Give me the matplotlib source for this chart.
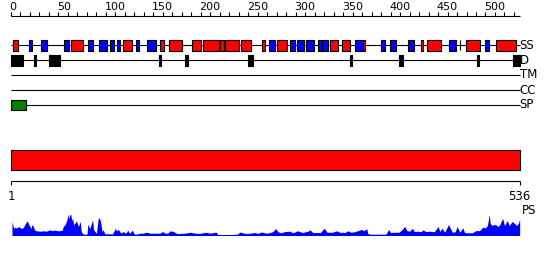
import matplotlib
matplotlib.use("Agg")
import matplotlib.pyplot as plt

SEQ_LEN = 536

# secondary structure elements (start, end residue)
HELIX = [(2, 7), (63, 76), (118, 127), (157, 161), (167, 180), (191, 200),
         (202, 219), (220, 224), (226, 240), (242, 253), (264, 268), (280, 291),
         (336, 345), (349, 357), (371, 373), (432, 434), (438, 453), (479, 494),
         (511, 532)]
STRAND = [(19, 22), (32, 38), (56, 61), (81, 86), (93, 101), (104, 109),
          (112, 115), (132, 135), (143, 147), (148, 153), (272, 278), (294, 299),
          (301, 309), (311, 319), (323, 328), (328, 334), (363, 371), (390, 394),
          (399, 406), (418, 425), (462, 469), (500, 504)]
SS_MARK = [473]
DISORDER = [(0, 13), (24, 26), (40, 52), (156, 158), (183, 187), (250, 255),
            (357, 359), (409, 413), (491, 493), (529, 536)]
TM = []
CC = []
SIGNAL = [(0, 16)]
DOMAIN = [(0, 536)]

RULER_LABELS = [0, 50, 100, 150, 200, 250, 300, 350, 400, 450, 500]

# PS profile (residue, score)
PS_POS = [1, 2, 3, 4, 6, 8, 11, 13, 15, 17, 19, 20, 21, 22, 23, 25, 27, 31, 34,
          37, 41, 43, 46, 50, 54, 55, 57, 59, 60, 61, 62, 63, 64, 65, 66, 67, 69,
          71, 73, 74, 76, 80, 81, 83, 86, 87, 90, 92, 94, 96, 97, 99, 104, 107,
          110, 111, 113, 116, 118, 121, 123, 125, 128, 130, 132, 136, 139, 143,
          146, 152, 157, 160, 162, 165, 168, 171, 175, 178, 183, 189, 194, 199,
          205, 210, 216, 218, 225, 233, 239, 241, 247, 252, 257, 260, 264, 269,
          273, 276, 279, 281, 284, 289, 294, 297, 302, 307, 313, 315, 318, 326,
          330, 333, 339, 343, 347, 349, 352, 355, 358, 362, 366, 369, 372, 375,
          376, 378, 389, 395, 398, 400, 405, 409, 412, 415, 417, 420, 423, 425,
          429, 432, 434, 437, 441, 446, 450, 452, 454, 457, 461, 465, 468, 470,
          473, 476, 478, 481, 486, 490, 493, 495, 497, 500, 502, 504, 505, 507,
          509, 511, 513, 515, 518, 520, 523, 525, 528, 531, 533, 535, 536]
PS_VAL = [14, 10, 7, 8.5, 7.5, 9, 7, 8, 11.7, 14.7, 10.7, 9, 7, 10.7, 10, 5.3,
          4.7, 4.3, 4.7, 4.3, 5.7, 5, 5.3, 4.7, 5.3, 9, 11, 15.7, 21, 17, 20.7,
          21, 15, 17, 10.7, 12, 14.7, 9, 14, 4, 1.3, 1.3, 11.3, 7, 15.7, 5.7,
          2.3, 18, 15.7, 4, 5.7, 1.7, 1.7, 1.7, 7.3, 4.7, 6, 2.3, 4, 2.3, 5.3,
          2.3, 5.3, 1.3, 1.3, 2.3, 2.3, 3.3, 2.3, 2.3, 2.3, 4, 2.3, 2.3, 4.7, 4,
          2, 2, 2.3, 3.3, 2.3, 2, 3.3, 2.3, 3.5, 1, 1, 1, 1.5, 3.5, 2, 2.3, 3,
          2, 3.5, 2.3, 3, 4, 7, 4, 2.7, 4, 4.3, 2.7, 4.7, 3, 4.3, 5.7, 3, 3,
          7.3, 3.3, 3.3, 4.7, 3, 3.3, 3, 4.7, 3.3, 3.7, 5, 6, 5, 6.7, 2, 1.3,
          1.3, 1.3, 6, 3, 3.3, 3.3, 6, 9, 5, 4.3, 7.3, 4, 4.3, 3.7, 5.7, 4, 4.3,
          3.7, 9, 4, 7.3, 3.3, 11, 3.3, 3.7, 9, 3.3, 7.7, 3, 2.7, 2.7, 5, 4.7,
          6, 8.3, 7.7, 10, 21, 12, 10, 11, 10.7, 9, 10.7, 17.3, 10, 15, 10, 14,
          11.7, 10, 13, 16.7]

TRACKS = ["SS", "D", "TM", "CC", "SP"]
TRACK_Y = [45.3, 60.3, 75, 90, 105]

px = 1.0 / 0.949  # residues per pixel
lw = 0.8

fig = plt.figure(figsize=(5.5, 2.6), dpi=100)
ax = fig.add_axes([0, 0, 1, 1])
ax.set_xlim(-11 * px, 539 * px)
ax.set_ylim(260, 0)
ax.axis("off")

# ruler
ax.hlines(15.5, 0, SEQ_LEN, color="black", lw=lw)
ax.vlines(range(0, SEQ_LEN, 10), 12, 15.5, color="black", lw=lw)
for r in RULER_LABELS:
    ax.text(r - 1.5, 7, str(r), ha="left", va="center", fontsize=8)

def boxes(segs, y, color, h=10.5):
    ax.broken_barh([(s, e - s) for s, e in segs], (y - h / 2, h),
                   facecolors=color, edgecolors="black", lw=lw, zorder=3)

for name, y in zip(TRACKS, TRACK_Y):
    ax.hlines(y, 0, SEQ_LEN, color="black", lw=lw)
    ax.text(SEQ_LEN, y, name, ha="left", va="center", fontsize=8.5)

boxes(HELIX, TRACK_Y[0], "red")
boxes(STRAND, TRACK_Y[0], "blue")
ax.vlines(SS_MARK, TRACK_Y[0] - 5, TRACK_Y[0] + 5, color="black", lw=lw)
boxes(DISORDER, TRACK_Y[1], "black")
boxes(TM, TRACK_Y[2], "#a000a0")
boxes(CC, TRACK_Y[3], "#00a0a0")
boxes(SIGNAL, TRACK_Y[4], "green")

# domain bar
boxes(DOMAIN, 160, "red", h=20)

# bottom scale
ax.hlines(181, 0, SEQ_LEN, color="black", lw=lw)
ax.vlines([0, SEQ_LEN], 181, 185, color="black", lw=lw)
ax.text(0, 196, "1", ha="center", va="center", fontsize=8.5)
ax.text(SEQ_LEN, 196, str(SEQ_LEN), ha="center", va="center", fontsize=8.5)
ax.text(SEQ_LEN + 2, 210.5, "PS", ha="left", va="center", fontsize=8.5)

# PS profile
ax2 = fig.add_axes([0, (260 - 235.5) / 260, 1, 22 / 260])
ax2.set_xlim(-11 * px, 539 * px)
ax2.set_ylim(0, 22)
ax2.axis("off")
ax2.fill_between(PS_POS, 0, PS_VAL, color="blue", lw=0)

fig.savefig("out.png", dpi=100)
